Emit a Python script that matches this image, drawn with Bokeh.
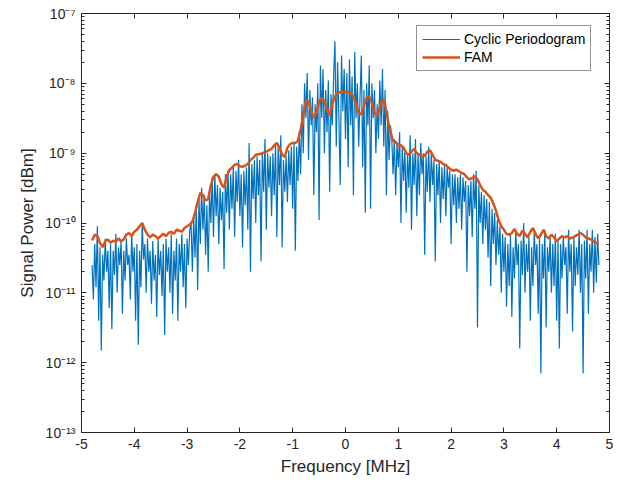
import numpy as np
from bokeh.plotting import figure
from bokeh.models import (Range1d, FixedTicker, LinearAxis, LogAxis,
                          CustomJSTickFormatter)
from bokeh.embed import file_html
from bokeh.resources import INLINE

# ---------------- data ----------------
freq_start_mhz = -4.8
freq_stop_mhz = 4.8

# Cyclic periodogram, one value per 0.025 MHz bin from -4.8 to 4.8 MHz
cp_power_left_floor = [
    2.5e-11, 8e-12, 5e-11, 1.2e-11, 9e-11, 4e-12, 4.5e-11, 1.5e-12, 3.5e-11, 1.5e-11,
    6e-11, 2e-11, 4e-11, 6e-12, 5e-11, 3e-12, 4e-11, 1.8e-11, 7e-11, 1e-11,
    4.5e-11, 2.5e-11, 5.5e-11, 5e-12, 4e-11, 1.5e-11, 6e-11, 2.5e-11, 3.5e-11, 8e-12,
    7e-11, 2e-11, 4.5e-11, 4e-12, 5e-11, 1.8e-12, 4e-11, 1.2e-11, 1e-10, 3e-11,
    5e-11, 1e-11, 6e-11, 2e-11, 4e-11, 7e-12, 5.5e-11, 1.5e-11, 3.5e-11, 4.5e-12,
    6e-11, 1.8e-11, 4e-11, 9e-12, 5e-11, 2.5e-12, 6e-11, 2e-11, 4.5e-11, 1e-11,
    7e-11, 5e-12, 4e-11, 1.5e-11, 6e-11, 4e-12, 5e-11, 2e-11, 7e-11, 1.2e-11,
    5e-11, 6e-12, 6e-11, 2.5e-11, 8e-11,
]
cp_power_left_rise = [
    1e-10, 2e-11, 1.25e-10, 3.2e-11, 1.8e-10, 1.1e-11, 2.2e-10, 5e-11, 3.2e-10, 8e-11,
    2.5e-10, 3.5e-11, 1.8e-10, 2e-11, 2.8e-10, 1e-10, 4.5e-10, 6.3e-11, 5e-10, 1.25e-10,
    3.5e-10, 5e-11, 3.2e-10, 1.1e-10, 2.8e-10, 2.2e-11, 5e-10, 1.4e-10, 5.6e-10, 8e-11,
    5e-10, 1.6e-10, 6.3e-10, 6.3e-11, 5.6e-10, 2e-10, 8e-10, 1.25e-10, 5e-10, 4.5e-11,
    5.6e-10, 1.8e-10, 6.3e-10, 8e-11, 1.4e-9, 2e-11, 7e-10, 2.2e-10, 8e-10, 1e-10,
    9e-10, 2.5e-10, 8e-10, 2.8e-11, 1e-9, 2.8e-10, 1.6e-9, 8e-11, 1e-9, 3.2e-10,
    9e-10, 1.25e-10, 1e-9, 2.5e-10, 1.4e-9, 6.3e-11, 1.25e-9, 3.5e-10, 1.8e-9, 4.5e-11,
    8e-10, 2.8e-10, 9e-10, 2e-10, 1.1e-9, 3.5e-10, 1.25e-9, 1.6e-10, 1.4e-9, 4e-11,
    1.25e-9, 4e-10, 2e-9,
]
cp_power_center = [
    5e-10, 5e-9, 1e-9, 1e-8, 3.2e-9, 1.4e-8, 8e-10, 8e-9, 2.5e-9, 6.3e-9,
    2.5e-10, 5e-9, 2e-9, 1e-8, 1.1e-10, 1.8e-8, 3.2e-9, 1.6e-8, 1e-9, 8e-9,
    2e-9, 1.1e-8, 2.8e-10, 7e-9, 2.5e-9, 1.25e-8, 4e-8, 1.25e-9, 2e-8, 3.2e-9,
    3.5e-10, 2.5e-8, 4e-9, 1.6e-8, 1.6e-9, 1.4e-8, 6.3e-10, 2.2e-8, 2.5e-9, 1.25e-8,
    2.5e-10, 2.8e-8, 3.2e-9, 1e-8, 1.25e-9, 6.3e-9, 2.5e-8, 6.3e-10, 8e-9, 1.4e-10,
    1e-8, 2.5e-9, 1.8e-8, 1.6e-10, 1e-8, 3.2e-9, 8e-9, 1e-9, 5e-9, 1.6e-9,
    1.1e-8, 2.5e-9, 1.6e-8, 1.25e-9, 8e-9, 2.5e-10, 4e-9, 8e-10, 2.5e-9,
]
cp_power_right_fall = [
    1.8e-9, 5e-10, 1.6e-9, 2.5e-10, 1.4e-9, 6.3e-10, 2e-9, 1e-10, 1.25e-9, 4e-10,
    1.1e-9, 1.4e-10, 1e-9, 3.2e-10, 1.8e-9, 8e-11, 1e-9, 3.5e-10, 1.6e-9, 1.25e-10,
    1e-9, 2.5e-10, 1.4e-9, 5e-10, 1e-9, 3.5e-11, 9e-10, 2.8e-10, 1.25e-9, 2e-10,
    1e-9, 3.5e-10, 8e-10, 2.8e-11, 7e-10, 2.5e-10, 8e-10, 1e-10, 6.3e-10, 2.2e-10,
    7e-10, 1.25e-10, 6.3e-10, 3.2e-10, 5.6e-10, 5e-11, 5e-10, 1.8e-10, 5e-10, 1e-10,
    4.5e-10, 1.6e-10, 5e-10, 8e-11, 4.5e-10, 2e-10, 4e-10, 2e-11, 3.5e-10, 1.25e-10,
    4e-10, 6.3e-11, 5e-10, 1.6e-10, 5.6e-10, 3.2e-12, 3.5e-10, 1e-10, 2.8e-10, 5e-11,
    2.5e-10, 8e-11, 2.2e-10, 3.2e-11, 2e-10, 1.25e-11, 1.6e-10, 5e-11, 1.4e-10, 2.5e-11,
    1.1e-10, 3.5e-11, 9e-11, 1e-11, 7e-11,
]
cp_power_right_floor = [
    2e-11, 6.3e-11, 6.3e-12, 5e-11, 1.25e-11, 7e-11, 4.5e-12, 4.5e-11, 1.6e-11, 8e-11,
    2.5e-11, 5e-11, 1.6e-12, 5.6e-11, 1.8e-11, 1e-10, 1e-11, 5e-11, 2e-11, 6.3e-11,
    4e-12, 4.5e-11, 1.25e-11, 8e-11, 2.5e-11, 5e-11, 5e-12, 6.3e-11, 7e-13, 5e-11,
    1.6e-11, 8e-11, 3.2e-12, 4.5e-11, 2e-11, 6.3e-11, 1e-11, 5e-11, 1.25e-11, 7e-11,
    4e-12, 5.6e-11, 1.6e-12, 5e-11, 1.6e-11, 6.3e-11, 2.5e-11, 4.5e-11, 5e-12, 8e-11,
    2e-11, 5e-11, 2.8e-12, 6.3e-11, 1.25e-11, 4.5e-11, 1.8e-11, 8e-11, 1e-11, 5e-11,
    7e-13, 5.6e-11, 1.6e-11, 8e-11, 5e-12, 5e-11, 2e-11, 8e-11, 1e-11, 6.3e-11,
    1.4e-11, 7e-11, 2.5e-11,
]

# FAM estimate
fam_freq = [
    -4.80, -4.75, -4.70, -4.65, -4.60, -4.55, -4.50, -4.45, -4.40, -4.35,
    -4.30, -4.25, -4.20, -4.15, -4.10, -4.05, -4.00, -3.95, -3.90, -3.85,
    -3.80, -3.75, -3.70, -3.65, -3.60, -3.55, -3.50, -3.45, -3.40, -3.35,
    -3.30, -3.25, -3.20, -3.15, -3.10, -3.05, -3.00, -2.95, -2.90, -2.85,
    -2.80, -2.75, -2.70, -2.65, -2.60, -2.55, -2.50, -2.45, -2.40, -2.35,
    -2.30, -2.25, -2.20, -2.15, -2.10, -2.05, -2.00, -1.95, -1.90, -1.85,
    -1.80, -1.75, -1.70, -1.60, -1.50, -1.40, -1.35, -1.30, -1.25, -1.20,
    -1.15, -1.10, -1.05, -1.00, -0.95, -0.90, -0.85, -0.80, -0.75, -0.70,
    -0.65, -0.60, -0.55, -0.50, -0.45, -0.40, -0.35, -0.30, -0.25, -0.20,
    -0.15, -0.10, -0.05, 0.00, 0.05, 0.10, 0.15, 0.20, 0.25, 0.30,
    0.35, 0.40, 0.45, 0.50, 0.55, 0.60, 0.65, 0.70, 0.75, 0.80,
    0.85, 0.90, 0.95, 1.00, 1.05, 1.10, 1.15, 1.20, 1.25, 1.30,
    1.35, 1.40, 1.45, 1.50, 1.55, 1.60, 1.65, 1.70, 1.75, 1.80,
    1.85, 1.90, 1.95, 2.00, 2.05, 2.10, 2.15, 2.20, 2.25, 2.30,
    2.35, 2.40, 2.45, 2.50, 2.55, 2.60, 2.65, 2.70, 2.75, 2.80,
    2.85, 2.90, 2.95, 3.00, 3.05, 3.10, 3.15, 3.20, 3.25, 3.30,
    3.35, 3.40, 3.45, 3.50, 3.55, 3.60, 3.65, 3.70, 3.75, 3.80,
    3.85, 3.90, 3.95, 4.00, 4.05, 4.10, 4.15, 4.20, 4.25, 4.30,
    4.35, 4.40, 4.45, 4.50, 4.55, 4.60, 4.65, 4.70, 4.75, 4.80,
]
fam_power = [
    5.6e-11, 6.8e-11, 6.5e-11, 5.2e-11, 4.5e-11, 5.5e-11, 5.8e-11, 5.2e-11, 5.6e-11, 5.4e-11,
    6.0e-11, 5.5e-11, 5.8e-11, 6.8e-11, 7.2e-11, 6.5e-11, 7.5e-11, 8.0e-11, 9.0e-11, 1.0e-10,
    8.0e-11, 6.8e-11, 6.2e-11, 6.8e-11, 6.5e-11, 6.0e-11, 6.5e-11, 7.0e-11, 6.5e-11, 7.2e-11,
    7.5e-11, 7.0e-11, 8.0e-11, 7.8e-11, 7.5e-11, 8.5e-11, 9.0e-11, 9.5e-11, 1.05e-10, 1.4e-10,
    2.0e-10, 2.7e-10, 2.5e-10, 2.1e-10, 2.2e-10, 3.5e-10, 4.6e-10, 5.0e-10, 4.6e-10, 3.6e-10,
    3.2e-10, 4.6e-10, 5.8e-10, 6.2e-10, 6.8e-10, 7.0e-10, 6.5e-10, 6.4e-10, 6.6e-10, 7.0e-10,
    8.0e-10, 8.5e-10, 9.5e-10, 9.8e-10, 1.05e-9, 1.15e-9, 1.3e-9, 1.4e-9, 1.2e-9, 9.5e-10,
    8.8e-10, 1.2e-9, 1.35e-9, 1.4e-9, 1.4e-9, 1.5e-9, 2.2e-9, 3.5e-9, 5.8e-9, 5.5e-9,
    4.0e-9, 3.2e-9, 3.8e-9, 5.5e-9, 6.2e-9, 5.5e-9, 4.2e-9, 3.5e-9, 5.0e-9, 6.5e-9,
    7.2e-9, 7.5e-9, 7.6e-9, 7.6e-9, 7.5e-9, 7.3e-9, 6.5e-9, 5.0e-9, 3.8e-9, 3.6e-9,
    4.8e-9, 6.2e-9, 6.5e-9, 5.2e-9, 3.8e-9, 3.4e-9, 4.5e-9, 6.0e-9, 5.0e-9, 3.0e-9,
    2.0e-9, 1.5e-9, 1.45e-9, 1.3e-9, 1.3e-9, 1.2e-9, 1.0e-9, 9.5e-10, 1.05e-9, 1.15e-9,
    1.0e-9, 9.5e-10, 9.0e-10, 9.2e-10, 1.05e-9, 1.1e-9, 9.5e-10, 8.0e-10, 7.8e-10, 7.5e-10,
    7.0e-10, 6.8e-10, 6.2e-10, 5.8e-10, 5.6e-10, 5.8e-10, 5.5e-10, 5.2e-10, 5.0e-10, 4.5e-10,
    4.2e-10, 4.4e-10, 4.6e-10, 4.2e-10, 3.5e-10, 3.0e-10, 2.8e-10, 2.5e-10, 2.3e-10, 1.9e-10,
    1.5e-10, 1.1e-10, 9.0e-11, 8.0e-11, 7.0e-11, 6.8e-11, 7.2e-11, 8.2e-11, 7.0e-11, 6.5e-11,
    7.8e-11, 7.0e-11, 6.2e-11, 7.5e-11, 8.5e-11, 7.0e-11, 6.0e-11, 6.8e-11, 8.0e-11, 6.5e-11,
    6.0e-11, 6.8e-11, 6.2e-11, 5.5e-11, 6.0e-11, 6.5e-11, 6.2e-11, 6.5e-11, 6.0e-11, 6.2e-11,
    6.5e-11, 6.8e-11, 7.2e-11, 6.8e-11, 6.2e-11, 6.0e-11, 5.8e-11, 5.5e-11, 5.2e-11, 5.0e-11,
]

x_ticks = [-5, -4, -3, -2, -1, 0, 1, 2, 3, 4, 5]
y_decades = [-13, -12, -11, -10, -9, -8, -7]

x_label = "Frequency [MHz]"
y_label = "Signal Power [dBm]"
series_names = ["Cyclic Periodogram", "FAM"]

# ---------------- build ----------------
cp_power = (cp_power_left_floor + cp_power_left_rise + cp_power_center
            + cp_power_right_fall + cp_power_right_floor)
cp_freq = np.linspace(freq_start_mhz, freq_stop_mhz, len(cp_power))

FONT = "Liberation Sans"
AX = "#262626"

p = figure(width=629, height=485, output_backend="svg", toolbar_location=None,
           y_axis_type="log", x_range=Range1d(-5, 5), y_range=Range1d(1e-13, 1e-7),
           min_border_left=81, min_border_right=20, min_border_top=13,
           min_border_bottom=53)
p.background_fill_color = "white"
p.border_fill_color = "white"
p.outline_line_color = AX
p.outline_line_width = 1
p.xgrid.visible = False
p.ygrid.visible = False

p.line(cp_freq, cp_power, line_color="#0072BD", line_width=1.2,
       legend_label=series_names[0])
p.line(fam_freq, fam_power, line_color="#D95319", line_width=2.5,
       legend_label=series_names[1])

y_major = [10.0 ** e for e in y_decades]
y_minor = [k * 10.0 ** e for e in y_decades[:-1] for k in range(2, 10)]
yfmt = CustomJSTickFormatter(code="""
const e = Math.round(Math.log10(tick));
const sup = {'-':'\u207b','0':'\u2070','1':'\u00b9','2':'\u00b2','3':'\u00b3',
             '4':'\u2074','5':'\u2075','6':'\u2076','7':'\u2077','8':'\u2078','9':'\u2079'};
return '10' + String(e).split('').map(c => sup[c]).join('');
""")
xfmt = CustomJSTickFormatter(code="return tick.toFixed(0);")

def style_axis(ax, show_labels):
    ax.axis_line_color = AX
    ax.major_tick_line_color = AX
    ax.minor_tick_line_color = AX
    ax.major_tick_in = 5
    ax.major_tick_out = 0
    ax.minor_tick_in = 3
    ax.minor_tick_out = 0
    ax.major_label_text_font = FONT
    if show_labels:
        ax.major_label_text_color = AX
        ax.major_label_text_font_size = "14px"
    else:
        ax.major_label_text_color = None
        ax.major_label_text_font_size = "1px"
        ax.major_label_standoff = 0
    ax.axis_label_text_font = FONT
    ax.axis_label_text_color = AX
    ax.axis_label_text_font_size = "17px"
    ax.axis_label_text_font_style = "normal"

xa = p.xaxis[0]
xa.ticker = FixedTicker(ticks=x_ticks)
xa.formatter = xfmt
xa.axis_label = x_label
xa.axis_label_standoff = 5
xa.major_label_standoff = 6
style_axis(xa, True)
xa.minor_tick_line_color = None

ya = p.yaxis[0]
ya.ticker = FixedTicker(ticks=y_major, minor_ticks=y_minor)
ya.formatter = yfmt
ya.axis_label = y_label
ya.axis_label_standoff = 5
ya.major_label_standoff = 6
style_axis(ya, True)

top = LinearAxis(ticker=FixedTicker(ticks=x_ticks), formatter=xfmt)
style_axis(top, False)
top.minor_tick_line_color = None
p.add_layout(top, "above")

right = LogAxis(ticker=FixedTicker(ticks=y_major, minor_ticks=y_minor), formatter=yfmt)
style_axis(right, False)
p.add_layout(right, "right")

lg = p.legend[0]
lg.location = (335, 361)
lg.label_text_font = FONT
lg.label_text_font_size = "14px"
lg.label_text_color = "black"
lg.glyph_width = 38
lg.glyph_height = 16
lg.label_height = 16
lg.label_standoff = 4
lg.padding = 5
lg.spacing = 2
lg.margin = 0
lg.border_line_color = AX
lg.border_line_width = 1
lg.background_fill_color = "white"
lg.background_fill_alpha = 1.0

open("out.html", "w").write(file_html(p, INLINE))
